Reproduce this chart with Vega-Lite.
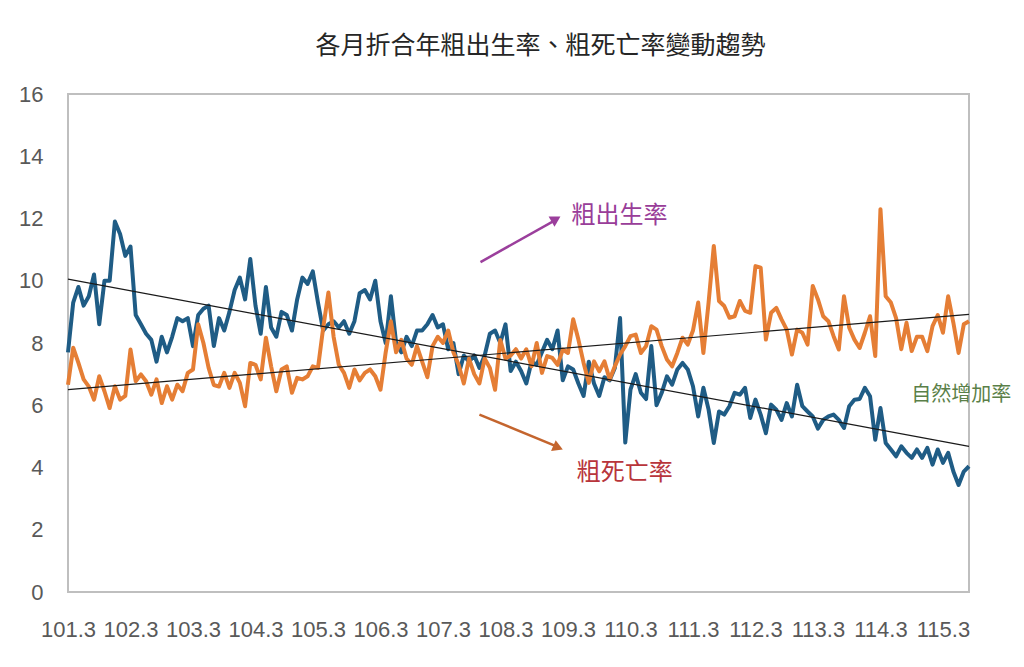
{
  "$schema": "https://vega.github.io/schema/vega-lite/v6.json",
  "width": 901,
  "height": 498,
  "autosize": {"type": "none"},
  "padding": {"left": 68, "top": 94, "right": 55, "bottom": 75},
  "background": "white",
  "title": {
    "text": "各月折合年粗出生率、粗死亡率變動趨勢",
    "font": "Noto Sans CJK TC",
    "fontSize": 25,
    "fontWeight": "normal",
    "color": "#262626",
    "offset": 24,
    "dx": 22
  },
  "datasets": {
    "birth": [
      {"m":0,"v":7.7},{"m":1,"v":9.3},{"m":2,"v":9.8},{"m":3,"v":9.2},{"m":4,"v":9.5},{"m":5,"v":10.2},{"m":6,"v":8.6},{"m":7,"v":10.0},{"m":8,"v":10.0},{"m":9,"v":11.9},
      {"m":10,"v":11.5},{"m":11,"v":10.8},{"m":12,"v":11.1},{"m":13,"v":8.9},{"m":14,"v":8.6},{"m":15,"v":8.3},{"m":16,"v":8.1},{"m":17,"v":7.4},{"m":18,"v":8.2},{"m":19,"v":7.7},
      {"m":20,"v":8.2},{"m":21,"v":8.8},{"m":22,"v":8.7},{"m":23,"v":8.8},{"m":24,"v":7.9},{"m":25,"v":8.9},{"m":26,"v":9.1},{"m":27,"v":9.2},{"m":28,"v":7.9},{"m":29,"v":8.8},
      {"m":30,"v":8.4},{"m":31,"v":9.0},{"m":32,"v":9.7},{"m":33,"v":10.1},{"m":34,"v":9.4},{"m":35,"v":10.7},{"m":36,"v":9.2},{"m":37,"v":8.3},{"m":38,"v":9.8},{"m":39,"v":8.5},
      {"m":40,"v":8.2},{"m":41,"v":9.0},{"m":42,"v":8.9},{"m":43,"v":8.4},{"m":44,"v":9.4},{"m":45,"v":10.1},{"m":46,"v":9.9},{"m":47,"v":10.3},{"m":48,"v":9.3},{"m":49,"v":8.4},
      {"m":50,"v":8.6},{"m":51,"v":8.7},{"m":52,"v":8.5},{"m":53,"v":8.7},{"m":54,"v":8.3},{"m":55,"v":8.7},{"m":56,"v":9.6},{"m":57,"v":9.7},{"m":58,"v":9.4},{"m":59,"v":10.0},
      {"m":60,"v":8.7},{"m":61,"v":8.0},{"m":62,"v":9.5},{"m":63,"v":8.0},{"m":64,"v":7.7},{"m":65,"v":8.2},{"m":66,"v":7.9},{"m":67,"v":8.4},{"m":68,"v":8.4},{"m":69,"v":8.6},
      {"m":70,"v":8.9},{"m":71,"v":8.5},{"m":72,"v":8.6},{"m":73,"v":7.8},{"m":74,"v":8.0},{"m":75,"v":7.0},{"m":76,"v":7.6},{"m":77,"v":7.4},{"m":78,"v":7.6},{"m":79,"v":7.2},
      {"m":80,"v":7.6},{"m":81,"v":8.3},{"m":82,"v":8.4},{"m":83,"v":8.0},{"m":84,"v":8.6},{"m":85,"v":7.1},{"m":86,"v":7.4},{"m":87,"v":7.1},{"m":88,"v":6.7},{"m":89,"v":7.4},
      {"m":90,"v":7.3},{"m":91,"v":7.7},{"m":92,"v":8.1},{"m":93,"v":7.8},{"m":94,"v":8.4},{"m":95,"v":6.8},{"m":96,"v":7.25},{"m":97,"v":7.15},{"m":98,"v":6.7},{"m":99,"v":6.3},
      {"m":100,"v":7.4},{"m":101,"v":6.7},{"m":102,"v":6.3},{"m":103,"v":6.9},{"m":104,"v":6.8},{"m":105,"v":7.2},{"m":106,"v":8.8},{"m":107,"v":4.8},{"m":108,"v":6.5},{"m":109,"v":7.0},
      {"m":110,"v":6.4},{"m":111,"v":6.2},{"m":112,"v":7.9},{"m":113,"v":6.0},{"m":114,"v":6.4},{"m":115,"v":6.93},{"m":116,"v":6.66},{"m":117,"v":7.15},{"m":118,"v":7.36},{"m":119,"v":7.15},
      {"m":120,"v":6.61},{"m":121,"v":5.64},{"m":122,"v":6.56},{"m":123,"v":5.86},{"m":124,"v":4.79},{"m":125,"v":5.8},{"m":126,"v":5.7},{"m":127,"v":5.97},{"m":128,"v":6.4},{"m":129,"v":6.34},
      {"m":130,"v":6.56},{"m":131,"v":5.59},{"m":132,"v":6.18},{"m":133,"v":5.7},{"m":134,"v":5.1},{"m":135,"v":6.02},{"m":136,"v":5.86},{"m":137,"v":5.53},{"m":138,"v":6.07},{"m":139,"v":5.64},
      {"m":140,"v":6.66},{"m":141,"v":5.97},{"m":142,"v":5.8},{"m":143,"v":5.64},{"m":144,"v":5.25},{"m":145,"v":5.53},{"m":146,"v":5.64},{"m":147,"v":5.7},{"m":148,"v":5.53},{"m":149,"v":5.27},
      {"m":150,"v":5.97},{"m":151,"v":6.18},{"m":152,"v":6.2},{"m":153,"v":6.56},{"m":154,"v":6.29},{"m":155,"v":4.89},{"m":156,"v":5.91},{"m":157,"v":4.79},{"m":158,"v":4.58},{"m":159,"v":4.36},
      {"m":160,"v":4.68},{"m":161,"v":4.47},{"m":162,"v":4.31},{"m":163,"v":4.58},{"m":164,"v":4.31},{"m":165,"v":4.63},{"m":166,"v":4.09},{"m":167,"v":4.58},{"m":168,"v":4.15},{"m":169,"v":4.47},
      {"m":170,"v":3.87},{"m":171,"v":3.44},{"m":172,"v":3.87},{"m":173,"v":4.04}
    ],
    "death": [
      {"m":0,"v":6.66},{"m":1,"v":7.85},{"m":2,"v":7.36},{"m":3,"v":6.83},{"m":4,"v":6.6},{"m":5,"v":6.18},{"m":6,"v":6.93},{"m":7,"v":6.45},{"m":8,"v":5.91},{"m":9,"v":6.61},
      {"m":10,"v":6.18},{"m":11,"v":6.3},{"m":12,"v":7.79},{"m":13,"v":6.77},{"m":14,"v":6.99},{"m":15,"v":6.77},{"m":16,"v":6.34},{"m":17,"v":6.83},{"m":18,"v":6.07},{"m":19,"v":6.61},
      {"m":20,"v":6.18},{"m":21,"v":6.66},{"m":22,"v":6.45},{"m":23,"v":7.04},{"m":24,"v":7.15},{"m":25,"v":8.6},{"m":26,"v":8.0},{"m":27,"v":7.2},{"m":28,"v":6.65},{"m":29,"v":6.6},
      {"m":30,"v":7.04},{"m":31,"v":6.56},{"m":32,"v":7.04},{"m":33,"v":6.72},{"m":34,"v":5.97},{"m":35,"v":7.36},{"m":36,"v":7.3},{"m":37,"v":6.83},{"m":38,"v":8.17},{"m":39,"v":7.25},
      {"m":40,"v":6.45},{"m":41,"v":7.15},{"m":42,"v":7.25},{"m":43,"v":6.4},{"m":44,"v":6.88},{"m":45,"v":6.83},{"m":46,"v":6.93},{"m":47,"v":7.25},{"m":48,"v":7.2},{"m":49,"v":8.49},
      {"m":50,"v":9.62},{"m":51,"v":8.2},{"m":52,"v":7.3},{"m":53,"v":7.04},{"m":54,"v":6.56},{"m":55,"v":7.15},{"m":56,"v":6.8},{"m":57,"v":7.04},{"m":58,"v":7.15},{"m":59,"v":6.93},
      {"m":60,"v":6.5},{"m":61,"v":7.7},{"m":62,"v":8.7},{"m":63,"v":7.7},{"m":64,"v":8.1},{"m":65,"v":7.5},{"m":66,"v":7.3},{"m":67,"v":7.9},{"m":68,"v":7.4},{"m":69,"v":6.9},
      {"m":70,"v":7.9},{"m":71,"v":8.2},{"m":72,"v":8.0},{"m":73,"v":8.4},{"m":74,"v":7.7},{"m":75,"v":7.3},{"m":76,"v":6.7},{"m":77,"v":7.5},{"m":78,"v":7.0},{"m":79,"v":6.7},
      {"m":80,"v":7.5},{"m":81,"v":7.2},{"m":82,"v":6.5},{"m":83,"v":8.1},{"m":84,"v":7.5},{"m":85,"v":7.6},{"m":86,"v":7.8},{"m":87,"v":7.5},{"m":88,"v":7.8},{"m":89,"v":7.25},
      {"m":90,"v":8.0},{"m":91,"v":7.04},{"m":92,"v":7.58},{"m":93,"v":7.52},{"m":94,"v":7.3},{"m":95,"v":7.79},{"m":96,"v":7.68},{"m":97,"v":8.76},{"m":98,"v":8.11},{"m":99,"v":7.36},
      {"m":100,"v":6.72},{"m":101,"v":7.41},{"m":102,"v":7.09},{"m":103,"v":7.41},{"m":104,"v":6.83},{"m":105,"v":7.25},{"m":106,"v":7.63},{"m":107,"v":7.9},{"m":108,"v":8.22},{"m":109,"v":8.27},
      {"m":110,"v":7.68},{"m":111,"v":7.9},{"m":112,"v":8.54},{"m":113,"v":8.43},{"m":114,"v":7.9},{"m":115,"v":7.47},{"m":116,"v":7.25},{"m":117,"v":7.68},{"m":118,"v":8.17},{"m":119,"v":7.95},
      {"m":120,"v":8.4},{"m":121,"v":9.3},{"m":122,"v":7.68},{"m":123,"v":9.3},{"m":124,"v":11.12},{"m":125,"v":9.35},{"m":126,"v":9.19},{"m":127,"v":8.81},{"m":128,"v":8.86},{"m":129,"v":9.35},
      {"m":130,"v":9.03},{"m":131,"v":8.97},{"m":132,"v":10.47},{"m":133,"v":10.42},{"m":134,"v":8.11},{"m":135,"v":8.97},{"m":136,"v":9.13},{"m":137,"v":8.76},{"m":138,"v":8.43},{"m":139,"v":7.63},
      {"m":140,"v":8.43},{"m":141,"v":8.33},{"m":142,"v":7.95},{"m":143,"v":9.83},{"m":144,"v":9.4},{"m":145,"v":8.86},{"m":146,"v":8.7},{"m":147,"v":8.22},{"m":148,"v":7.79},{"m":149,"v":9.5},
      {"m":150,"v":8.49},{"m":151,"v":8.11},{"m":152,"v":7.84},{"m":153,"v":8.33},{"m":154,"v":8.86},{"m":155,"v":7.58},{"m":156,"v":12.3},{"m":157,"v":9.5},{"m":158,"v":9.3},{"m":159,"v":8.8},
      {"m":160,"v":7.8},{"m":161,"v":8.65},{"m":162,"v":7.74},{"m":163,"v":8.2},{"m":164,"v":8.2},{"m":165,"v":7.74},{"m":166,"v":8.54},{"m":167,"v":8.9},{"m":168,"v":8.33},{"m":169,"v":9.5},
      {"m":170,"v":8.65},{"m":171,"v":7.68},{"m":172,"v":8.6},{"m":173,"v":8.7}
    ],
    "trend": [
      {"s":"birth","m":0,"v":10.05},{"s":"birth","m":173,"v":4.68},
      {"s":"death","m":0,"v":6.5},{"s":"death","m":173,"v":8.92}
    ]
  },
  "layer": [
    {
      "data": {"name": "birth"},
      "mark": {"type": "line", "color": "#1f5c85", "strokeWidth": 4, "strokeJoin": "round"},
      "encoding": {
        "x": {
          "field": "m",
          "type": "quantitative",
          "scale": {"domain": [0, 173], "nice": false, "zero": false},
          "axis": {
            "title": null,
            "values": [0, 12, 24, 36, 48, 60, 72, 84, 96, 108, 120, 132, 144, 156, 168],
            "labelExpr": "(101 + datum.value / 12) + '.3'",
            "grid": false,
            "ticks": false,
            "domain": false,
            "labelPadding": 27,
            "labelFontSize": 22,
            "labelFlush": false,
            "labelOverlap": false
          }
        },
        "y": {
          "field": "v",
          "type": "quantitative",
          "scale": {"domain": [0, 16], "nice": false},
          "axis": {
            "title": null,
            "values": [0, 2, 4, 6, 8, 10, 12, 14, 16],
            "grid": false,
            "ticks": false,
            "domain": false,
            "labelPadding": 25,
            "labelFontSize": 22
          }
        }
      }
    },
    {
      "data": {"name": "death"},
      "mark": {"type": "line", "color": "#e57e35", "strokeWidth": 4, "strokeJoin": "round"},
      "encoding": {
        "x": {"field": "m", "type": "quantitative"},
        "y": {"field": "v", "type": "quantitative"}
      }
    },
    {
      "data": {"name": "trend"},
      "mark": {"type": "line", "color": "#1a1a1a", "strokeWidth": 1.2},
      "encoding": {
        "x": {"field": "m", "type": "quantitative"},
        "y": {"field": "v", "type": "quantitative"},
        "detail": {"field": "s"}
      }
    },
    {
      "data": {"values": [{}]},
      "mark": {"type": "rule", "color": "#9b3f9c", "strokeWidth": 2.5},
      "encoding": {
        "x": {"datum": 79.2},
        "y": {"datum": 10.6},
        "x2": {"datum": 93.4},
        "y2": {"datum": 11.93}
      }
    },
    {
      "data": {"values": [{}]},
      "mark": {"type": "point", "shape": "triangle-up", "filled": true, "opacity": 1, "color": "#9b3f9c", "size": 140, "angle": 60},
      "encoding": {
        "x": {"datum": 93.7},
        "y": {"datum": 11.98}
      }
    },
    {
      "data": {"values": [{}]},
      "mark": {"type": "rule", "color": "#c4652e", "strokeWidth": 2.5},
      "encoding": {
        "x": {"datum": 79.0},
        "y": {"datum": 5.7},
        "x2": {"datum": 93.8},
        "y2": {"datum": 4.68}
      }
    },
    {
      "data": {"values": [{}]},
      "mark": {"type": "point", "shape": "triangle-up", "filled": true, "opacity": 1, "color": "#c4652e", "size": 140, "angle": 113},
      "encoding": {
        "x": {"datum": 94.1},
        "y": {"datum": 4.64}
      }
    },
    {
      "data": {"values": [{}]},
      "mark": {"type": "text", "text": "粗出生率", "align": "left", "baseline": "middle", "font": "Noto Sans CJK TC", "fontSize": 24, "color": "#993d99"},
      "encoding": {
        "x": {"datum": 96.7},
        "y": {"datum": 12.07}
      }
    },
    {
      "data": {"values": [{}]},
      "mark": {"type": "text", "text": "粗死亡率", "align": "left", "baseline": "middle", "font": "Noto Sans CJK TC", "fontSize": 24, "color": "#b8353b"},
      "encoding": {
        "x": {"datum": 97.7},
        "y": {"datum": 3.83}
      }
    },
    {
      "data": {"values": [{}]},
      "mark": {"type": "text", "text": "自然增加率", "align": "left", "baseline": "middle", "font": "Noto Sans CJK TC", "fontSize": 20, "color": "#5a7f48"},
      "encoding": {
        "x": {"datum": 161.9},
        "y": {"datum": 6.34}
      }
    }
  ],
  "config": {
    "view": {"stroke": "#bfbfbf", "strokeWidth": 2},
    "axis": {
      "labelFont": "Liberation Sans",
      "labelColor": "#595959"
    }
  }
}
